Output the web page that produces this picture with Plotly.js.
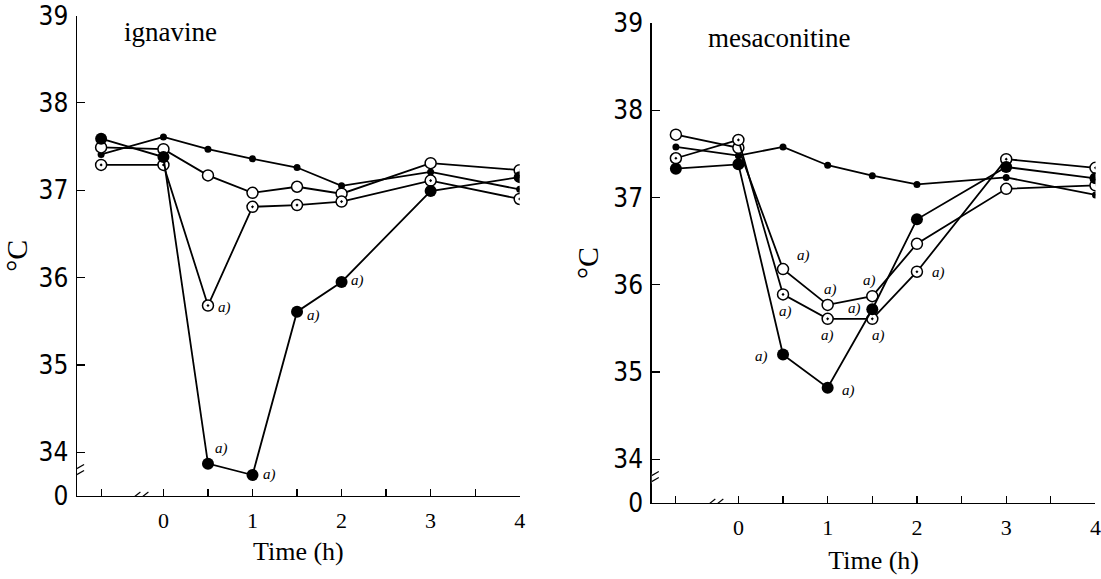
<!DOCTYPE html>
<html>
<head>
<meta charset="utf-8">
<script src="https://cdn.plot.ly/plotly-3.0.1.min.js"></script>
<style>html,body{margin:0;padding:0;background:#fff;}#chart{width:1101px;height:579px;}</style>
</head>
<body>
<div id="chart"></div>
<script>
// ---- data ----
const timeH = [-0.7, 0, 0.5, 1, 1.5, 2, 3, 4];

// ignavine panel
const igControl = [37.41, 37.61, 37.47, 37.36, 37.26, 37.05, 37.21, 37.01];
const igOpen    = [37.49, 37.47, 37.17, 36.97, 37.04, 36.96, 37.31, 37.23];
const igDotted  = [37.29, 37.29, 35.68, 36.81, 36.83, 36.87, 37.11, 36.90];
const igFilled  = [37.59, 37.38, 33.87, 33.74, 35.61, 35.95, 36.99, 37.15];

// mesaconitine panel
const meControl = [37.58, 37.48, 37.58, 37.37, 37.25, 37.15, 37.23, 37.03];
const meOpen    = [37.72, 37.57, 36.18, 35.77, 35.87, 36.47, 37.10, 37.14];
const meDotted  = [37.45, 37.66, 35.89, 35.61, 35.61, 36.15, 37.44, 37.34];
const meFilled  = [37.33, 37.38, 35.20, 34.82, 35.72, 36.75, 37.35, 37.22];

// significance marks "a)" : indices into timeH
const igSigDotted = [2];
const igSigFilled = [2, 3, 4, 5];
const meSigOpen   = [2, 3, 4];
const meSigDotted = [2, 3, 4, 5];
const meSigFilled = [2, 3, 4];

const xTickVals = [-0.7, 0, 0.5, 1, 1.5, 2, 2.5, 3, 3.5, 4];
const xTickText = ['', '0', '', '1', '', '2', '', '3', '', '4'];
const yTickVals = [33.5, 34, 35, 36, 37, 38, 39];
const yTickText = ['0', '34', '35', '36', '37', '38', '39'];

// ---- styles ----
const LW = 1.8;
const styles = {
  control: {symbol: 'circle', size: 7, color: '#000', line: {color: '#000', width: 0}},
  open:    {symbol: 'circle', size: 11, color: '#fff', line: {color: '#000', width: 1.5}},
  dotted:  {symbol: 'circle-dot', size: 11, color: '#fff', line: {color: '#000', width: 1.5}},
  filled:  {symbol: 'circle', size: 12, color: '#000', line: {color: '#000', width: 0}}
};

function tr(y, kind, xa, ya) {
  return {x: timeH, y: y, xaxis: xa, yaxis: ya, type: 'scatter', mode: 'lines+markers',
    line: {color: '#000', width: LW}, marker: styles[kind], showlegend: false, hoverinfo: 'x+y'};
}

const data = [
  tr(igControl, 'control', 'x', 'y'),
  tr(igOpen, 'open', 'x', 'y'),
  tr(igDotted, 'dotted', 'x', 'y'),
  tr(igFilled, 'filled', 'x', 'y'),
  tr(meControl, 'control', 'x2', 'y2'),
  tr(meOpen, 'open', 'x2', 'y2'),
  tr(meDotted, 'dotted', 'x2', 'y2'),
  tr(meFilled, 'filled', 'x2', 'y2')
];

const aFont = {family: 'Liberation Serif, serif', size: 15, color: '#000'};
function sig(series, idxs, xa, ya, offsets) {
  return idxs.map((i, k) => ({
    x: timeH[i], y: series[i], xref: xa, yref: ya, text: '<i>a)</i>', showarrow: false,
    xanchor: 'center', yanchor: 'middle',
    font: aFont, xshift: offsets[k][0], yshift: offsets[k][1]
  }));
}

const annotations = [].concat(
  sig(igDotted, igSigDotted, 'x', 'y', [[17, -2]]),
  sig(igFilled, igSigFilled, 'x', 'y', [[14, 15], [17, 1], [16, -4], [16, 1]]),
  sig(meOpen, meSigOpen, 'x2', 'y2', [[20, 14], [3, 15], [-3, 16]]),
  sig(meDotted, meSigDotted, 'x2', 'y2', [[2, -17], [0, -17], [6, -17], [22, -1]]),
  sig(meFilled, meSigFilled, 'x2', 'y2', [[-22, -2], [21, -3], [-18, 1]]),
  [
    {text: 'ignavine', xref: 'paper', yref: 'paper', x: 0.155, y: 0.945, showarrow: false,
     xanchor: 'center', yanchor: 'middle',
     font: {family: 'Liberation Serif, serif', size: 27, color: '#000'}},
    {text: 'mesaconitine', xref: 'paper', yref: 'paper', x: 0.7075, y: 0.934, showarrow: false,
     xanchor: 'center', yanchor: 'middle',
     font: {family: 'Liberation Serif, serif', size: 27, color: '#000'}}
  ]
);

// axis break marks
function breakShapes(xa, ya) {
  const s = [];
  // x-axis break
  s.push({type: 'line', xref: xa, yref: ya, xsizemode: 'pixel', ysizemode: 'pixel',
    xanchor: -0.27, yanchor: 33.5, x0: -7, x1: 7, y0: 0, y1: 0, line: {color: '#fff', width: 4}});
  [-4, 4].forEach(dx => s.push({type: 'line', xref: xa, yref: ya, xsizemode: 'pixel', ysizemode: 'pixel',
    xanchor: -0.27, yanchor: 33.5, x0: dx - 5, x1: dx + 5, y0: -4, y1: 4, line: {color: '#000', width: 1.2}}));
  // y-axis break
  s.push({type: 'line', xref: xa, yref: ya, xsizemode: 'pixel', ysizemode: 'pixel',
    xanchor: -0.97, yanchor: 33.78, x0: 0, x1: 0, y0: -5, y1: 5, line: {color: '#fff', width: 4}});
  [-3, 3].forEach(dy => s.push({type: 'line', xref: xa, yref: ya, xsizemode: 'pixel', ysizemode: 'pixel',
    xanchor: -0.97, yanchor: 33.78, x0: -7, x1: 7, y0: dy - 4, y1: dy + 4, line: {color: '#000', width: 1.2}}));
  return s;
}

const xTickFont = {family: 'Liberation Serif, serif', size: 22, color: '#000'};
const yTickFont = {family: 'Liberation Sans Narrow, DejaVu Sans Condensed, sans-serif', size: 26, color: '#000'};
const xTitleFont = {family: 'Liberation Serif, serif', size: 26, color: '#000'};
const yTitleFont = {family: 'Liberation Serif, serif', size: 30, color: '#000'};

function xAxis(domain, anchor, standoff) {
  return {domain: domain, anchor: anchor, range: [-0.97, 4.0], showgrid: false, zeroline: false,
    showline: true, linecolor: '#000', linewidth: 1.5, ticks: 'inside', ticklen: 7, tickwidth: 1.2,
    tickcolor: '#000', tickvals: xTickVals, ticktext: xTickText, tickfont: xTickFont,
    ticklabelstandoff: 4, ticklabeloverflow: 'allow',
    title: {text: 'Time (h)', font: xTitleFont, standoff: standoff}, automargin: false, fixedrange: true};
}
function yAxis(domain, anchor) {
  return {domain: domain, anchor: anchor, range: [33.5, 39.0], showgrid: false, zeroline: false,
    showline: true, linecolor: '#000', linewidth: 1.5, ticks: 'inside', ticklen: 8, tickwidth: 1.2,
    tickcolor: '#000', tickvals: yTickVals, ticktext: yTickText, tickfont: yTickFont,
    ticklabelstandoff: 2,
    title: {text: '°C', font: yTitleFont, standoff: 6}, automargin: false, fixedrange: true};
}

const layout = {
  width: 1101, height: 579,
  margin: {l: 0, r: 0, t: 0, b: 0},
  paper_bgcolor: '#fff', plot_bgcolor: '#fff',
  xaxis: xAxis([0.070, 0.472], 'y', 10),
  yaxis: yAxis([0.1434, 0.9732], 'x'),
  xaxis2: xAxis([0.592, 0.995], 'y2', 12),
  yaxis2: yAxis([0.1313, 0.9603], 'x2'),
  annotations: annotations,
  shapes: breakShapes('x', 'y').concat(breakShapes('x2', 'y2')),
  showlegend: false
};

Plotly.newPlot('chart', data, layout, {displayModeBar: false, staticPlot: true});
</script>
</body>
</html>
